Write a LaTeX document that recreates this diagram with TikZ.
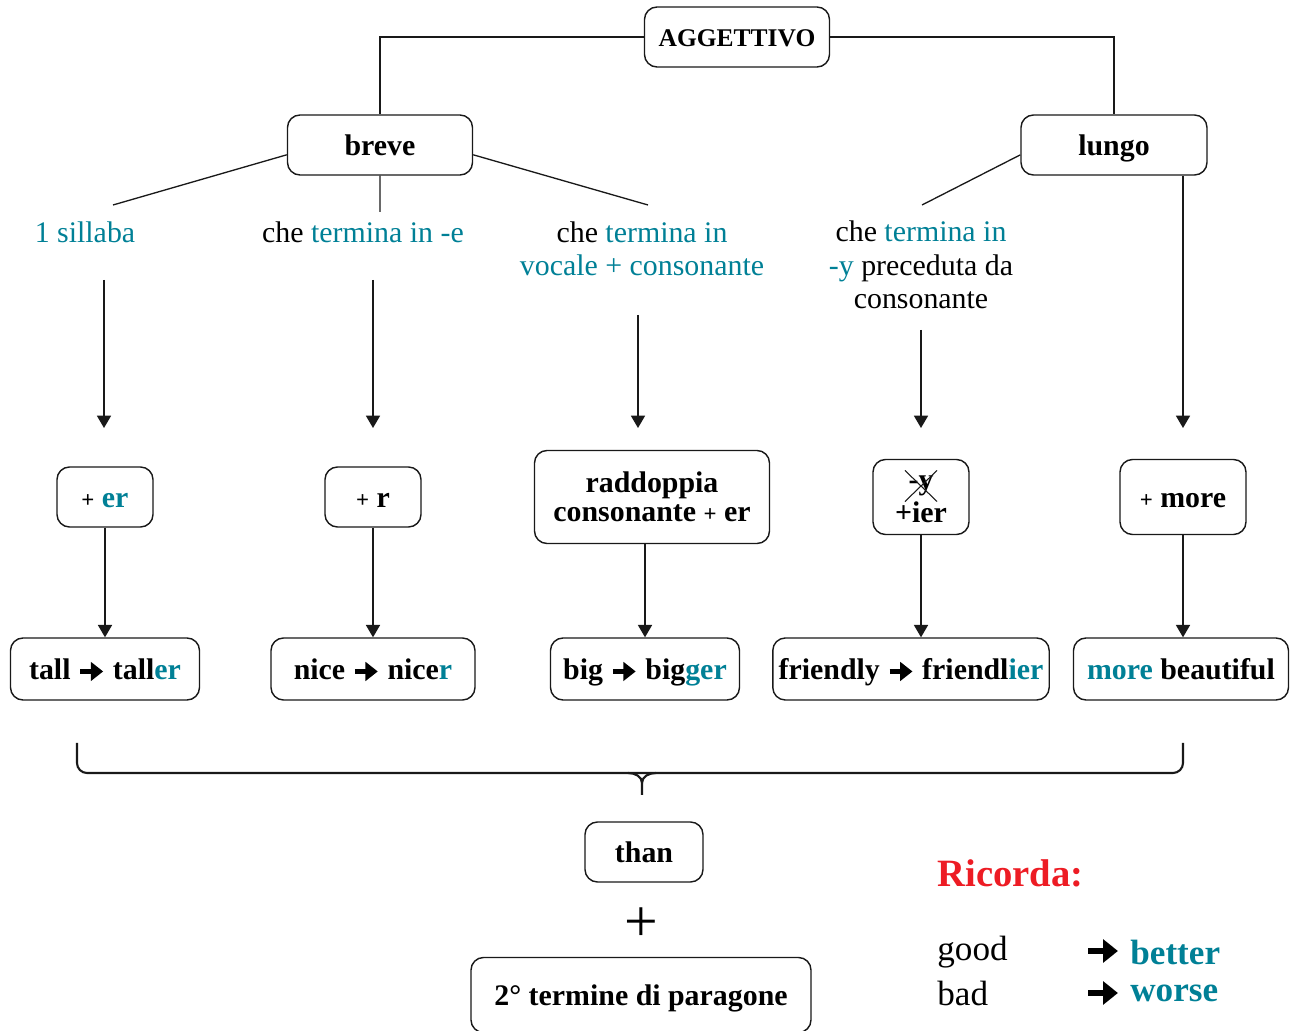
\documentclass[tikz,border=0pt]{standalone}
\usepackage{fontspec}
\setmainfont{Liberation Serif}
\usepackage{tikz}
\usetikzlibrary{shapes.misc,arrows.meta}
\definecolor{verde}{RGB}{0,128,150}
\definecolor{rosso}{RGB}{237,28,36}
\newcommand{\freccia}{\tikz[baseline=-4.8pt]\draw[line width=2.6pt,-{Triangle[length=7pt,width=10.5pt]}] (0,0) -- (13pt,0);}
\newcommand{\frecciagrande}{\tikz[baseline=-5.5pt]\draw[line width=3pt,-{Triangle[length=8.5pt,width=13pt]}] (0,0) -- (17pt,0);}
\tikzstyle{nodobox} = [rectangle,rounded corners=0.25cm,minimum width=1.92cm,minimum height=1.2cm,text centered,align=center,draw=black!90,line width=0.8pt,fill=white,font=\bfseries\fontsize{17}{16.5}\selectfont]
\tikzstyle{unariga} = [text height=12.4pt,text depth=0pt]
\tikzstyle{etichetta} = [align=center,inner sep=0pt,font=\fontsize{17}{19}\selectfont]
\tikzstyle{linea} = [line width=0.75pt,black!90]
\tikzstyle{arrow} = [line width=0.75pt,black!90,-{Triangle[length=7pt,width=8pt]}]
\tikzstyle{graffa} = [line width=1.2pt,black!90]

\begin{document}
\begin{tikzpicture}
\tikzstyle{every node}=[font=\fontsize{17}{19}\selectfont]
\useasboundingbox (0,0) rectangle (25.94,-20.62);

% 1px = 0.02cm

\node (agg)   [nodobox,unariga,font=\bfseries\fontsize{14.5}{17}\selectfont,text height=11pt,minimum width=3.7cm,xshift=14.74cm,yshift=-0.74cm] {AGGETTIVO};
\node (breve) [nodobox,unariga,minimum width=3.7cm,xshift=7.6cm,yshift=-2.9cm] {breve};
\node (lungo) [nodobox,unariga,minimum width=3.72cm,xshift=22.28cm,yshift=-2.9cm] {lungo};

\node (cond1) [etichetta,xshift=1.7cm,yshift=-4.64cm] {\color{verde}1 sillaba};
\node (cond2) [etichetta,xshift=7.26cm,yshift=-4.64cm] {che {\color{verde}termina in -e}};
\node (cond3) [etichetta,xshift=12.84cm,yshift=-4.97cm] {che {\color{verde}termina in}\\{\color{verde}vocale + consonante}};
\node (cond4) [etichetta,xshift=18.42cm,yshift=-5.30cm] {che {\color{verde}termina in}\\{\color{verde}-y} preceduta da\\consonante};

\coordinate (fine1) at (2.26,-4.10);
\coordinate (fine2) at (7.60,-4.24);
\coordinate (fine3) at (12.96,-4.10);
\coordinate (fine4) at (18.44,-4.10);

\coordinate (su1) at (2.08,-5.60);
\coordinate (su2) at (7.46,-5.60);
\coordinate (su3) at (12.76,-6.30);
\coordinate (su4) at (18.42,-6.60);

\coordinate (giu1) at (2.08,-8.56);
\coordinate (giu2) at (7.46,-8.56);
\coordinate (giu3) at (12.76,-8.56);
\coordinate (giu4) at (18.42,-8.56);
\coordinate (giu5) at (23.66,-8.56);

\node (box1) [nodobox,unariga,xshift=2.10cm,yshift=-9.94cm] {{\fontsize{13}{13}\selectfont +} {\color{verde}er}};
\node (box2) [nodobox,unariga,xshift=7.46cm,yshift=-9.94cm] {{\fontsize{13}{13}\selectfont +} r};
\node (box3) [nodobox,minimum width=4.7cm,minimum height=1.86cm,xshift=13.04cm,yshift=-9.94cm] {raddoppia\\consonante {\fontsize{13}{13}\selectfont +} er};
\node (box4) [nodobox,minimum height=1.5cm,xshift=18.42cm,yshift=-9.94cm] {};
\node (box5) [nodobox,unariga,minimum width=2.52cm,minimum height=1.5cm,xshift=23.66cm,yshift=-9.94cm] {{\fontsize{13}{13}\selectfont +} more};

\node (ymeno) [cross out,draw=black!90,line width=0.6pt,inner sep=0pt,minimum width=0.62cm,minimum height=0.6cm,font=\bfseries\fontsize{17}{17}\selectfont,above of=box4,yshift=-0.78cm] {-y};
\node (ier)   [font=\bfseries\fontsize{17}{17}\selectfont,inner sep=0pt,below of=box4,yshift=0.7cm] {+ier};

\node (res1) [nodobox,unariga,minimum width=3.78cm,minimum height=1.24cm,below of=box1,yshift=-2.44cm] {tall \freccia\ tall{\color{verde}er}};
\node (res2) [nodobox,unariga,minimum width=4.08cm,minimum height=1.24cm,below of=box2,yshift=-2.44cm] {nice \freccia\ nice{\color{verde}r}};
\node (res3) [nodobox,unariga,minimum width=3.78cm,minimum height=1.24cm,below of=box3,xshift=-0.14cm,yshift=-2.44cm] {big \freccia\ big{\color{verde}ger}};
\node (res4) [nodobox,unariga,minimum width=5.36cm,minimum height=1.24cm,below of=box4,xshift=-0.2cm,yshift=-2.44cm] {friendly \freccia\ friendl{\color{verde}ier}};
\node (res5) [nodobox,unariga,minimum width=4.3cm,minimum height=1.24cm,below of=box5,xshift=-0.04cm,yshift=-2.44cm] {{\color{verde}more} beautiful};

\node (than)    [nodobox,unariga,minimum width=2.36cm,xshift=12.88cm,yshift=-17.04cm] {than};
\node (piu)     [inner sep=0pt,font=\fontsize{34}{34}\selectfont,xshift=12.82cm,yshift=-18.50cm] {+};
\node (termine) [nodobox,unariga,minimum width=6.8cm,minimum height=1.5cm,xshift=12.82cm,yshift=-19.90cm] {2° termine di paragone};

\node (ricorda) [anchor=west,inner sep=0pt,text=rosso,font=\bfseries\fontsize{22}{24}\selectfont,xshift=18.74cm,yshift=-17.46cm] {Ricorda:};
\node (good)   [anchor=west,inner sep=0pt,font=\fontsize{20}{22}\selectfont,xshift=18.74cm,yshift=-19.04cm] {good};
\node (bad)    [anchor=west,inner sep=0pt,font=\fontsize{20}{22}\selectfont,xshift=18.74cm,yshift=-19.86cm] {bad};
\node (frec1)  [inner sep=0pt,xshift=22.06cm,yshift=-19.02cm] {\frecciagrande};
\node (frec2)  [inner sep=0pt,xshift=22.06cm,yshift=-19.86cm] {\frecciagrande};
\node (better) [anchor=west,inner sep=0pt,text=verde,font=\bfseries\fontsize{20}{22}\selectfont,xshift=22.6cm,yshift=-19.04cm] {better};
\node (worse)  [anchor=west,inner sep=0pt,text=verde,font=\bfseries\fontsize{20}{22}\selectfont,xshift=22.6cm,yshift=-19.86cm] {worse};

\draw[linea] (agg.west) -| (breve.north);
\draw[linea] (agg.east) -| (lungo.north);
\draw[linea] (breve.186) -- (fine1);
\draw[linea] (breve.south) -- (fine2);
\draw[linea] (breve.354) -- (fine3);
\draw[linea] (lungo.186) -- (fine4);

\draw[arrow] (su1) -- (giu1);
\draw[arrow] (su2) -- (giu2);
\draw[arrow] (su3) -- (giu3);
\draw[arrow] (su4) -- (giu4);
\draw[arrow] (lungo.south -| giu5) -- (giu5);

\draw[arrow] (box1.south) -- (res1.north);
\draw[arrow] (box2.south) -- (res2.north);
\draw[arrow] (box3.south -| res3.north) -- (res3.north);
\draw[arrow] (box4.south) -- (box4.south |- res4.north);
\draw[arrow] (box5.south) -- (box5.south |- res5.north);

% graffa
\draw[graffa,rounded corners=0.2cm] (1.54,-14.86) |- (12.84,-15.46) -| (23.66,-14.86);
\draw[graffa] (12.56,-15.46) to[out=0,in=90] (12.84,-15.66) -- (12.84,-15.90);
\draw[graffa] (13.12,-15.46) to[out=180,in=90] (12.84,-15.66);
\end{tikzpicture}
\end{document}
